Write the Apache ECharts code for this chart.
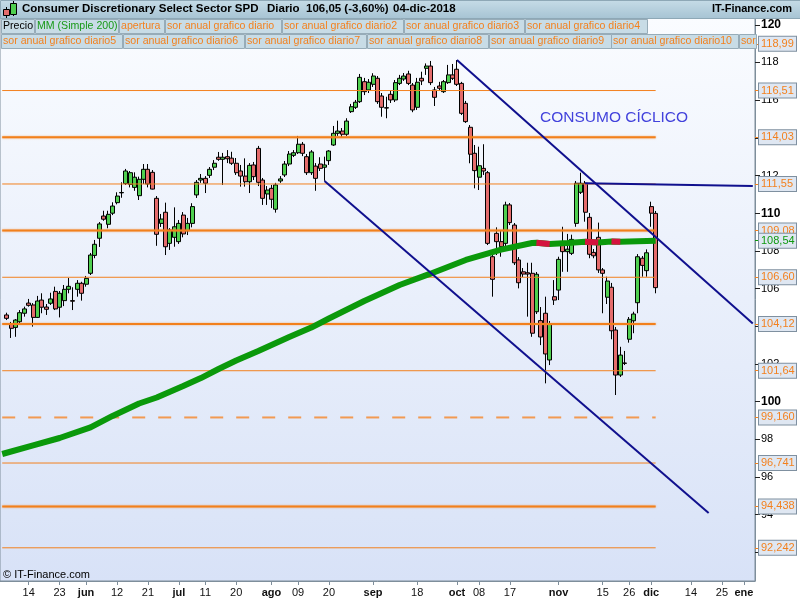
<!DOCTYPE html>
<html>
<head>
<meta charset="utf-8">
<title>Consumer Discretionary Select Sector SPD</title>
<script src="https://cdn.jsdelivr.net/npm/echarts@6/dist/echarts.min.js"></script>
<style>
  html, body { margin: 0; padding: 0; background: #fff; }
  #chart { width: 800px; height: 600px; }
</style>
</head>
<body>
<div id="chart"></div>
<script>
const FONT = '"Liberation Sans", Arial, sans-serif';
const ORANGE = '#f3811e';

// axis days (Mon-Fri), market holidays skipped up to the last bar
const firstDay = '2018-05-04';
const lastDay = '2019-01-03';
const holidays = ['2018-05-28', '2018-07-04', '2018-09-03', '2018-11-22'];

// daily bars from 2018-05-07 to 2018-12-04 : [open, close, low, high]
const firstBar = '2018-05-07';
const bars = [
  [104.60, 104.42, 104.33, 104.72], [104.12, 103.89, 103.38, 104.23], [103.94, 104.33, 103.44, 104.38],
  [104.24, 104.72, 104.17, 104.86], [104.69, 104.92, 104.51, 105.04], [105.23, 105.11, 105.04, 105.45],
  [105.13, 104.47, 103.98, 105.23], [104.47, 105.34, 104.44, 105.61], [105.39, 105.01, 104.69, 105.75],
  [105.02, 104.90, 104.60, 105.18], [105.22, 105.45, 105.13, 105.78], [105.85, 104.92, 104.86, 106.10],
  [105.01, 105.75, 104.47, 105.87], [105.36, 105.96, 105.07, 106.19], [105.96, 106.12, 105.75, 106.56],
  [105.36, 105.33, 104.86, 106.07], [105.96, 106.28, 105.57, 106.45], [106.28, 105.75, 105.36, 106.36],
  // june
  [106.23, 106.54, 106.10, 106.67], [106.81, 107.78, 106.72, 107.89], [107.76, 108.35, 107.61, 108.58],
  [108.67, 109.43, 108.21, 109.53], [109.85, 109.68, 109.60, 110.13], [109.41, 109.94, 109.20, 110.13],
  [110.00, 110.38, 109.90, 110.58], [110.56, 110.91, 110.47, 111.11], [111.08, 111.10, 110.82, 111.64],
  [111.57, 112.24, 111.50, 112.35], [111.53, 112.15, 111.37, 112.24], [111.37, 111.91, 111.19, 112.17],
  [110.93, 111.80, 110.70, 111.94], [111.80, 112.33, 111.55, 112.61], [112.33, 111.55, 111.37, 112.61],
  [112.17, 111.28, 111.26, 112.29], [110.79, 108.88, 108.27, 110.91], [109.46, 109.69, 109.27, 109.96],
  [110.05, 108.22, 107.78, 110.56], [108.40, 109.11, 108.05, 109.21], [108.72, 109.28, 108.22, 110.31],
  // july
  [108.49, 109.46, 108.37, 109.64], [109.90, 108.90, 108.72, 110.06], [109.07, 109.46, 108.84, 109.75],
  [109.46, 110.35, 109.25, 110.53], [110.97, 111.64, 110.81, 111.76], [111.76, 111.85, 111.61, 112.08],
  [111.85, 111.59, 111.07, 111.97], [112.01, 112.33, 111.87, 112.45], [112.44, 112.65, 112.29, 112.82],
  [112.97, 112.86, 112.78, 113.25], [112.86, 112.97, 111.50, 113.20], [113.00, 112.89, 112.66, 113.35],
  [112.92, 112.65, 112.56, 113.26], [112.65, 112.15, 112.03, 112.93], [112.24, 111.97, 111.41, 112.56],
  [111.97, 111.67, 111.41, 112.91], [111.67, 112.54, 111.07, 112.66], [112.56, 111.94, 111.76, 112.72],
  [113.44, 111.64, 111.44, 113.57], [111.76, 110.79, 110.44, 111.87], [111.02, 111.23, 110.44, 111.44],
  // august
  [111.32, 110.74, 110.27, 111.50], [110.21, 111.50, 110.03, 111.61], [111.71, 111.82, 111.61, 111.97],
  [112.03, 112.61, 111.92, 112.77], [112.61, 113.14, 112.50, 113.30], [113.07, 113.21, 112.98, 113.35],
  [113.21, 113.66, 113.14, 114.10], [113.66, 113.18, 113.03, 113.78], [113.00, 112.15, 112.03, 113.14],
  [112.15, 113.25, 112.03, 113.35], [112.50, 111.85, 111.19, 112.66], [112.61, 112.38, 112.24, 112.97],
  [112.44, 112.56, 111.72, 113.00], [112.79, 113.30, 112.56, 113.35], [113.62, 114.24, 113.57, 114.63],
  [114.24, 114.36, 114.10, 114.91], [114.36, 114.19, 114.04, 114.52], [114.19, 114.89, 114.10, 115.04],
  [115.39, 115.65, 115.32, 115.80], [115.62, 115.89, 115.53, 116.01], [115.92, 117.21, 115.85, 117.39],
  [116.98, 116.45, 116.27, 117.18], [116.54, 116.95, 116.38, 117.12],
  // september
  [116.84, 117.28, 116.70, 117.43], [117.16, 115.92, 115.80, 117.28], [116.22, 115.62, 115.12, 116.38],
  [115.60, 115.58, 115.04, 116.18], [116.31, 116.01, 115.85, 116.49], [116.01, 116.93, 115.90, 117.07],
  [116.89, 117.16, 116.80, 117.34], [117.12, 117.28, 117.02, 117.44], [117.39, 116.89, 116.80, 117.56],
  [116.80, 115.48, 115.36, 116.91], [115.62, 116.95, 115.48, 117.18], [117.16, 117.02, 116.80, 117.51],
  [117.69, 117.81, 117.34, 117.95], [117.81, 116.93, 116.80, 118.08], [116.54, 116.15, 115.69, 116.70],
  [116.75, 116.63, 116.49, 116.97], [116.45, 116.98, 116.38, 117.07], [116.93, 117.34, 116.86, 117.87],
  [117.34, 117.16, 117.07, 117.92],
  // october
  [117.64, 116.84, 116.75, 118.13], [116.89, 115.30, 115.21, 116.97], [115.83, 114.86, 114.79, 115.96],
  [114.56, 113.13, 112.65, 114.68], [113.18, 112.26, 111.32, 113.62], [111.91, 112.52, 111.23, 113.53],
  [112.38, 112.24, 112.03, 113.66], [112.15, 108.40, 108.31, 112.24], [107.69, 106.49, 105.57, 107.89],
  [108.93, 108.49, 107.78, 109.25], [108.49, 108.22, 107.69, 109.11], [108.40, 110.44, 108.26, 110.61],
  [110.44, 109.50, 109.37, 110.54], [109.37, 107.37, 107.25, 109.48], [107.52, 106.31, 106.01, 107.67],
  [106.89, 106.77, 106.61, 107.09], [106.84, 106.77, 104.51, 107.37], [106.81, 103.63, 103.44, 107.37],
  [104.77, 106.76, 104.65, 106.88], [104.30, 103.43, 103.00, 105.02], [104.69, 102.53, 100.97, 105.57],
  [102.21, 104.12, 101.94, 104.28], [105.57, 105.39, 105.13, 106.45],
  // november
  [105.92, 107.55, 105.39, 107.69], [108.31, 107.96, 106.89, 109.28], [107.96, 108.09, 106.89, 108.90],
  [107.87, 108.61, 107.78, 108.86], [109.46, 111.59, 109.28, 111.71], [111.11, 111.59, 111.02, 112.15],
  [111.59, 110.05, 109.55, 111.71], [109.78, 107.82, 107.61, 110.01], [107.92, 107.74, 107.61, 108.10],
  [108.72, 106.99, 106.83, 109.50], [106.99, 106.81, 104.69, 107.09], [105.54, 106.40, 105.18, 106.63],
  [106.07, 103.76, 103.31, 106.30], [103.80, 101.41, 100.35, 103.96], [101.41, 102.47, 101.31, 102.91],
  [102.05, 102.03, 101.94, 102.69], [103.31, 104.37, 103.13, 104.49], [104.29, 104.65, 103.63, 104.77],
  [105.25, 107.69, 104.69, 107.83], [107.61, 107.23, 106.63, 107.73], [106.95, 107.90, 106.63, 108.08],
  // december
  [110.35, 110.00, 109.28, 110.61], [109.99, 106.05, 105.75, 110.12]
];

// MM (Simple 200), read at a few dates
const ma200 = [
  ['2018-05-04', 97.22], ['2018-05-15', 97.68], ['2018-05-23', 98.07], ['2018-06-04', 98.63],
  ['2018-06-11', 99.24], ['2018-06-19', 99.90], ['2018-06-25', 100.22], ['2018-07-03', 100.83],
  ['2018-07-10', 101.25], ['2018-07-16', 101.73], ['2018-07-20', 102.18], ['2018-07-27', 102.69],
  ['2018-08-07', 103.43], ['2018-08-14', 103.93], ['2018-08-20', 104.41], ['2018-08-30', 105.34],
  ['2018-09-12', 106.19], ['2018-09-21', 106.79], ['2018-10-03', 107.52], ['2018-10-15', 108.07],
  ['2018-10-24', 108.42], ['2018-10-25', 108.43], ['2018-10-30', 108.37], ['2018-11-05', 108.42],
  ['2018-11-09', 108.48], ['2018-11-14', 108.45], ['2018-11-19', 108.50], ['2018-11-21', 108.48],
  ['2018-12-04', 108.54]
];
// stretches where the average turns down (drawn red)
const maFalling = [
  [['2018-10-25', 108.43], ['2018-10-30', 108.37]],
  [['2018-11-09', 108.48], ['2018-11-14', 108.45]],
  [['2018-11-19', 108.50], ['2018-11-21', 108.48]]
];

// annual levels
const thinLevels = [118.99, 116.51, 111.55, 106.60, 101.64, 96.741, 92.242];
const thickLevels = [114.03, 109.08, 104.12, 94.438];
const dashedLevels = [99.16];

// hand drawn trend lines
const trendLines = [
  [['2018-08-17', 111.71], ['2018-12-20', 94.09]],
  [['2018-10-01', 118.13], ['2019-01-03', 104.14]],
  [['2018-11-09', 111.59], ['2019-01-03', 111.44]]
];

const priceTicks = [92, 94, 96, 98, 100, 102, 104, 106, 108, 110, 112, 114, 116, 118, 120];
const dateTicks = [
  ['2018-05-14', '14'], ['2018-05-23', '23'], ['2018-06-01', 'jun'], ['2018-06-12', '12'],
  ['2018-06-21', '21'], ['2018-07-02', 'jul'], ['2018-07-11', '11'], ['2018-07-20', '20'],
  ['2018-08-01', 'ago'], ['2018-08-09', '09'], ['2018-08-20', '20'], ['2018-09-04', 'sep'],
  ['2018-09-18', '18'], ['2018-10-01', 'oct'], ['2018-10-08', '08'], ['2018-10-17', '17'],
  ['2018-11-01', 'nov'], ['2018-11-15', '15'], ['2018-11-26', '26'], ['2018-12-03', 'dic'],
  ['2018-12-14', '14'], ['2018-12-25', '25'], ['2019-01-01', 'ene']
];

function tradingDays() {
  const out = [];
  const d = new Date(firstDay + 'T00:00:00Z');
  const end = new Date(lastDay + 'T00:00:00Z');
  while (d <= end) {
    const s = d.toISOString().slice(0, 10);
    const wd = d.getUTCDay();
    if (wd !== 0 && wd !== 6 && holidays.indexOf(s) < 0) out.push(s);
    d.setUTCDate(d.getUTCDate() + 1);
  }
  return out;
}

const days = tradingDays();
const barStart = days.indexOf(firstBar);
const lastBarDay = days[barStart + bars.length - 1];
const candleData = days.map((d, i) => {
  const k = i - barStart;
  return k >= 0 && k < bars.length ? bars[k] : '-';
});
const tickMap = new Map(dateTicks);
const maLast = ma200[ma200.length - 1][1];
const allLevels = thinLevels.concat(thickLevels, dashedLevels);
const fmt = v => v.toPrecision(5).replace('.', ',');

function flatLine(v, lineStyle) {
  return {
    type: 'line', data: [[days[0], v], [lastBarDay, v]],
    symbol: 'none', silent: true, z: 3, lineStyle: lineStyle
  };
}

const series = [
  {
    type: 'candlestick',
    data: candleData,
    barWidth: 4.5,
    z: 2,
    itemStyle: {
      color: '#4fcf4f', color0: '#e46c6c',
      borderColor: '#000', borderColor0: '#000', borderColorDoji: '#000', borderWidth: 1
    }
  }
];
thinLevels.forEach(v => series.push(flatLine(v, { color: ORANGE, width: 1 })));
thickLevels.forEach(v => series.push(flatLine(v, {
  color: '#f2801c', width: 2, shadowColor: 'rgba(245,140,50,0.7)', shadowBlur: 2
})));
dashedLevels.forEach(v => series.push(flatLine(v, { color: '#f29a52', width: 2, type: [13, 13] })));
series.push({
  type: 'line', data: ma200, symbol: 'none', silent: true, z: 4,
  lineStyle: { color: '#0b990b', width: 6 }
});
maFalling.forEach(seg => series.push({
  type: 'line', data: seg, symbol: 'none', silent: true, z: 5,
  lineStyle: { color: '#d4143e', width: 6 }
}));
trendLines.forEach(seg => series.push({
  type: 'line', data: seg, symbol: 'none', silent: true, z: 6,
  lineStyle: { color: '#10108e', width: 2 }
}));

// header, legend strip and notes
const legendRows = [
  [['Precio', '#000', 1, 34], ['MM (Simple 200)', '#189a18', 35, 118], ['apertura', ORANGE, 119, 164],
   ['sor anual grafico diario', ORANGE, 165, 281], ['sor anual grafico diario2', ORANGE, 282, 403],
   ['sor anual grafico diario3', ORANGE, 404, 524], ['sor anual grafico diario4', ORANGE, 525, 647]],
  [['sor anual grafico diario5', ORANGE, 1, 122], ['sor anual grafico diario6', ORANGE, 123, 244],
   ['sor anual grafico diario7', ORANGE, 245, 366], ['sor anual grafico diario8', ORANGE, 367, 488],
   ['sor anual grafico diario9', ORANGE, 489, 611], ['sor anual grafico diario10', ORANGE, 611, 738],
   ['sor', ORANGE, 739, 756]]
];
const graphics = [
  {
    type: 'rect', left: 0, top: 0, z: 10, silent: true,
    shape: { width: 800, height: 18 },
    style: {
      fill: new echarts.graphic.LinearGradient(0, 0, 0, 1, [
        { offset: 0, color: '#c6dce7' }, { offset: 1, color: '#a6c3d3' }
      ]),
      stroke: '#8ea8b6', lineWidth: 1
    }
  },
  // small candle icon
  { type: 'line', z: 11, shape: { x1: 6.5, y1: 7, x2: 6.5, y2: 18 }, style: { stroke: '#000' } },
  { type: 'rect', z: 11, shape: { x: 3.5, y: 9.5, width: 6, height: 6 }, style: { fill: '#e46c6c', stroke: '#000' } },
  { type: 'line', z: 11, shape: { x1: 13.5, y1: 1, x2: 13.5, y2: 16 }, style: { stroke: '#000' } },
  { type: 'rect', z: 11, shape: { x: 10.5, y: 3.5, width: 6, height: 11 }, style: { fill: '#4fcf4f', stroke: '#000' } },
  {
    type: 'text', z: 11, left: 22, top: 3,
    style: { text: 'Consumer Discretionary Select Sector SPD', font: 'bold 11.5px ' + FONT, fill: '#000' }
  },
  { type: 'text', z: 11, left: 267, top: 3, style: { text: 'Diario', font: 'bold 11.5px ' + FONT, fill: '#000' } },
  { type: 'text', z: 11, left: 306, top: 3, style: { text: '106,05 (-3,60%)', font: 'bold 11.5px ' + FONT, fill: '#000' } },
  { type: 'text', z: 11, left: 393, top: 3, style: { text: '04-dic-2018', font: 'bold 11.5px ' + FONT, fill: '#000' } },
  { type: 'text', z: 11, right: 8, top: 3, style: { text: 'IT-Finance.com', font: 'bold 11px ' + FONT, fill: '#000' } },
  {
    type: 'text', z: 11, left: 540, top: 110,
    style: { text: 'CONSUMO CÍCLICO', font: '15.5px ' + FONT, fill: '#4242dc' }
  },
  { type: 'text', z: 11, left: 3, top: 569, style: { text: '© IT-Finance.com', font: '11px ' + FONT, fill: '#000' } }
];
legendRows.forEach((row, r) => {
  const y = r === 0 ? 19.5 : 34.5;
  row.forEach(([label, color, x0, x1]) => {
    graphics.push({
      type: 'rect', z: 11, silent: true,
      shape: { x: x0 + 0.5, y: y, width: x1 - x0, height: 14 },
      style: { fill: '#c8dce6', stroke: '#97acb8', lineWidth: 1 }
    });
    graphics.push({
      type: 'text', z: 12, silent: true, left: x0 + 2, top: y + 1.5,
      style: { text: label, font: '10.6px ' + FONT, fill: color }
    });
  });
});

const chart = echarts.init(document.getElementById('chart'));
chart.setOption({
  animation: false,
  backgroundColor: '#fff',
  textStyle: { fontFamily: FONT },
  grid: {
    left: 0, right: 43, top: 18, bottom: 19,
    show: true,
    backgroundColor: new echarts.graphic.LinearGradient(0, 0, 0, 1, [
      { offset: 0, color: '#fafcff' }, { offset: 1, color: '#d8e2f7' }
    ]),
    borderColor: '#7e8e9b', borderWidth: 1
  },
  xAxis: {
    type: 'category',
    data: days,
    boundaryGap: true,
    axisLine: { show: true, lineStyle: { color: '#7e8e9b' } },
    axisTick: { show: true, alignWithLabel: true, length: 4, lineStyle: { color: '#7e8e9b' } },
    axisLabel: {
      interval: (i, v) => tickMap.has(v),
      margin: 6,
      formatter: v => {
        const t = tickMap.get(v) || '';
        return /^\d+$/.test(t) ? '{n|' + t + '}' : '{b|' + t + '}';
      },
      rich: {
        n: { fontSize: 11, color: '#111' },
        b: { fontSize: 11, fontWeight: 'bold', color: '#111' }
      }
    },
    splitLine: { show: false }
  },
  yAxis: [
    {
      type: 'value', position: 'right', min: 90.48, max: 120.36,
      axisLine: { show: true, lineStyle: { color: '#7e8e9b' } },
      splitLine: { show: false },
      axisTick: { show: true, length: 5, customValues: priceTicks, lineStyle: { color: '#222' } },
      axisLabel: {
        customValues: priceTicks, margin: 6,
        formatter: v => (v % 10 === 0 ? '{b|' + v + '}' : '{n|' + v + '}'),
        rich: {
          n: { fontSize: 11, color: '#000' },
          b: { fontSize: 12, fontWeight: 'bold', color: '#000' }
        }
      }
    },
    {
      type: 'value', position: 'right', min: 90.48, max: 120.36, z: 5,
      axisLine: { show: false },
      splitLine: { show: false },
      axisTick: { show: true, length: 4, customValues: allLevels, lineStyle: { color: ORANGE } },
      axisLabel: {
        customValues: allLevels, margin: 4, formatter: fmt,
        fontSize: 11, color: ORANGE, width: 33, align: 'left',
        backgroundColor: '#dfe7f2', borderColor: '#7f90a0', borderWidth: 1, padding: [2, 2, 1, 2]
      }
    },
    {
      type: 'value', position: 'right', min: 90.48, max: 120.36, z: 6,
      axisLine: { show: false },
      splitLine: { show: false },
      axisTick: { show: true, length: 4, customValues: [maLast], lineStyle: { color: '#0b990b' } },
      axisLabel: {
        customValues: [maLast], margin: 4, formatter: fmt,
        fontSize: 11, color: '#109a10', width: 33, align: 'left',
        backgroundColor: '#dfe7f2', borderColor: '#7f90a0', borderWidth: 1, padding: [2, 2, 1, 2]
      }
    }
  ],
  series: series,
  graphic: graphics
});
</script>
</body>
</html>
